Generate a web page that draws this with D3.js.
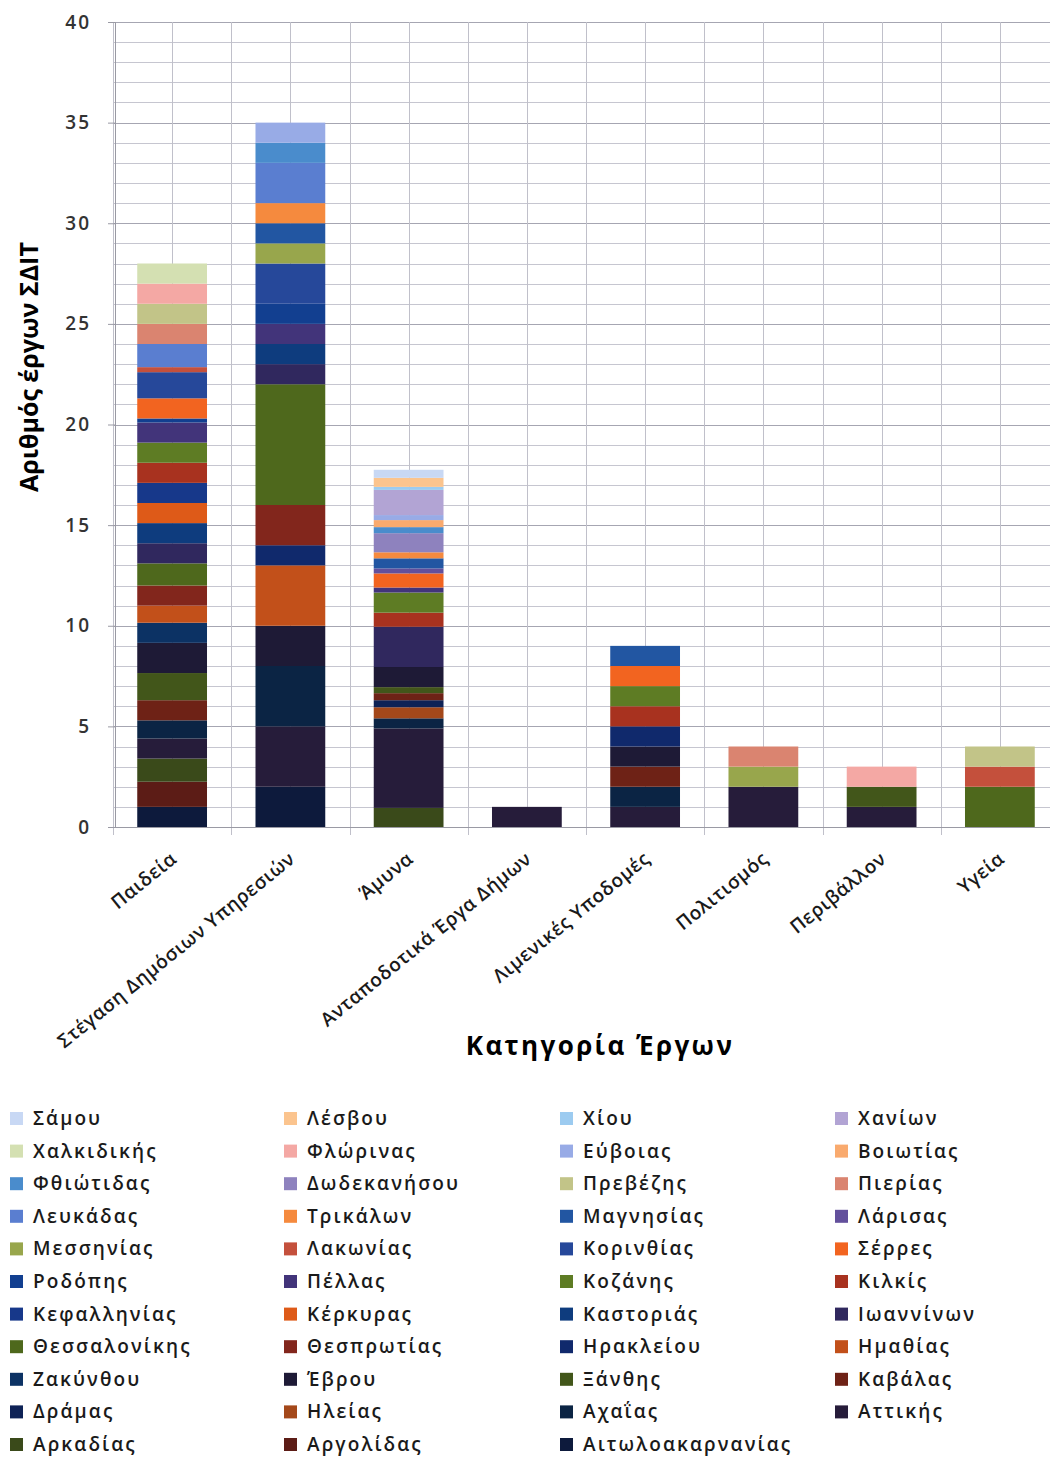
<!DOCTYPE html>
<html>
<head>
<meta charset="utf-8">
<script src="https://cdn.jsdelivr.net/npm/d3@7"></script>
<style>
  html, body { margin: 0; padding: 0; background: #ffffff; }
  svg { display: block; }
  text { font-family: "Open Sans", "DejaVu Sans", sans-serif; }
</style>
</head>
<body>
<svg id="chart" width="1050" height="1458"></svg>
<script>
// Project categories (x axis)
const categories = [
  "Παιδεία",
  "Στέγαση Δημόσιων Υπηρεσιών",
  "Άμυνα",
  "Ανταποδοτικά Έργα Δήμων",
  "Λιμενικές Υποδομές",
  "Πολιτισμός",
  "Περιβάλλον",
  "Υγεία"
];

// Prefectures in stacking order (bottom of the column first)
const prefectures = [
  "Αιτωλοακαρνανίας", "Αργολίδας", "Αρκαδίας", "Αττικής", "Αχαΐας", "Ηλείας",
  "Δράμας", "Καβάλας", "Ξάνθης", "Έβρου", "Ζακύνθου", "Ημαθίας",
  "Ηρακλείου", "Θεσπρωτίας", "Θεσσαλονίκης", "Ιωαννίνων", "Καστοριάς", "Κέρκυρας",
  "Κεφαλληνίας", "Κιλκίς", "Κοζάνης", "Πέλλας", "Ροδόπης", "Σέρρες",
  "Κορινθίας", "Λακωνίας", "Μεσσηνίας", "Λάρισας", "Μαγνησίας", "Τρικάλων",
  "Λευκάδας", "Πιερίας", "Πρεβέζης", "Δωδεκανήσου", "Φθιώτιδας", "Βοιωτίας",
  "Εύβοιας", "Φλώρινας", "Χαλκιδικής", "Χανίων", "Χίου", "Λέσβου", "Σάμου"
];

const prefectureColors = [
  "#0d1a3c", "#5c1c16", "#3a4a1a", "#261c3a", "#0b2444", "#a4481a",
  "#0e2256", "#6e2216", "#42561a", "#1e1a36", "#0c3264", "#c2501a",
  "#10296c", "#82261c", "#4e681c", "#30285e", "#0e3c7e", "#de5a18",
  "#17388a", "#a8321f", "#5e7c24", "#42347a", "#123f90", "#f26420",
  "#26489a", "#c4503c", "#98a64c", "#63509c", "#2256a2", "#f58a3e",
  "#5a7ed0", "#da8470", "#c2c488", "#8e82be", "#4a8ccc", "#f9aa6e",
  "#98abe6", "#f4a8a4", "#d4e0b2", "#b2a4d4", "#9ccbf0", "#fbc48e", "#c8d8f4"
];

// Number of projects per prefecture, one list per category
const paideia = {
  "Αιτωλοακαρνανίας": 1, "Αργολίδας": 1.25, "Αρκαδίας": 1.15, "Αττικής": 1, "Αχαΐας": 0.9,
  "Καβάλας": 1, "Ξάνθης": 1.35, "Έβρου": 1.5, "Ζακύνθου": 1, "Ημαθίας": 0.85,
  "Θεσπρωτίας": 1, "Θεσσαλονίκης": 1.1, "Ιωαννίνων": 1, "Καστοριάς": 1, "Κέρκυρας": 1,
  "Κεφαλληνίας": 1, "Κιλκίς": 1, "Κοζάνης": 1, "Πέλλας": 1, "Ροδόπης": 0.2,
  "Σέρρες": 1, "Κορινθίας": 1.3, "Λακωνίας": 0.25, "Λευκάδας": 1.15, "Πιερίας": 1,
  "Πρεβέζης": 1, "Φλώρινας": 1, "Χαλκιδικής": 1
};
const stegasi = {
  "Αιτωλοακαρνανίας": 2, "Αττικής": 3, "Αχαΐας": 3, "Έβρου": 2, "Ημαθίας": 3,
  "Ηρακλείου": 1, "Θεσπρωτίας": 2, "Θεσσαλονίκης": 6, "Ιωαννίνων": 1, "Καστοριάς": 1,
  "Πέλλας": 1, "Ροδόπης": 1, "Κορινθίας": 2, "Μεσσηνίας": 1, "Μαγνησίας": 1,
  "Τρικάλων": 1, "Λευκάδας": 2, "Φθιώτιδας": 1, "Εύβοιας": 1
};
const amyna = {
  "Αρκαδίας": 0.95, "Αττικής": 3.95, "Αχαΐας": 0.5, "Ηλείας": 0.55, "Δράμας": 0.35,
  "Καβάλας": 0.35, "Ξάνθης": 0.3, "Έβρου": 1, "Ιωαννίνων": 2, "Κιλκίς": 0.7,
  "Κοζάνης": 1, "Πέλλας": 0.25, "Σέρρες": 0.7, "Λάρισας": 0.25, "Μαγνησίας": 0.5,
  "Τρικάλων": 0.3, "Δωδεκανήσου": 0.95, "Φθιώτιδας": 0.3, "Βοιωτίας": 0.35, "Εύβοιας": 0.25,
  "Χανίων": 1.25, "Χίου": 0.15, "Λέσβου": 0.45, "Σάμου": 0.4
};
const antapodotika = { "Αττικής": 1 };
const limenikes = {
  "Αττικής": 1, "Αχαΐας": 1, "Καβάλας": 1, "Έβρου": 1, "Ηρακλείου": 1,
  "Κιλκίς": 1, "Κοζάνης": 1, "Σέρρες": 1, "Μαγνησίας": 1
};
const politismos = { "Αττικής": 2, "Μεσσηνίας": 1, "Πιερίας": 1 };
const perivallon = { "Αττικής": 1, "Ξάνθης": 1, "Φλώρινας": 1 };
const ygeia = { "Θεσσαλονίκης": 2, "Λακωνίας": 1, "Πρεβέζης": 1 };

const categoryValues = [paideia, stegasi, amyna, antapodotika, limenikes, politismos, perivallon, ygeia];

const yTicks = [0, 5, 10, 15, 20, 25, 30, 35, 40];
const yTitle = "Αριθμός έργων ΣΔΙΤ";
const xTitle = "Κατηγορία Έργων";

// ---- layout ----
const plot = { left: 113, right: 1059, top: 22, bottom: 827 };
const svg = d3.select("#chart");

const table = categories.map((c, i) => {
  const row = { category: c };
  prefectures.forEach(p => { row[p] = categoryValues[i][p] || 0; });
  return row;
});

const x = d3.scaleBand()
  .domain(categories)
  .range([plot.left, plot.right])
  .paddingInner(0.41)
  .paddingOuter(0.205);

const y = d3.scaleLinear().domain([0, 40]).range([plot.bottom, plot.top]);
const color = d3.scaleOrdinal().domain(prefectures).range(prefectureColors);

// gridlines: one per unit, darker every five
const grid = svg.append("g");
d3.range(1, 41).forEach(v => {
  grid.append("line")
    .attr("x1", plot.left).attr("x2", 1050)
    .attr("y1", Math.round(y(v)) + 0.5).attr("y2", Math.round(y(v)) + 0.5)
    .attr("stroke", v % 5 === 0 ? "#a6a6b2" : "#c6c6d0")
    .attr("stroke-width", 1);
});
// vertical gridlines at category edges and centres
const step = x.step();
const vLines = [];
categories.forEach(c => {
  const mid = x(c) + x.bandwidth() / 2;
  vLines.push(mid - step / 2, mid);
});
vLines.push(x(categories[categories.length - 1]) + x.bandwidth() / 2 + step / 2);
vLines.forEach((vx, i) => {
  grid.append("line")
    .attr("x1", Math.round(vx) + 0.5).attr("x2", Math.round(vx) + 0.5)
    .attr("y1", plot.top).attr("y2", plot.bottom + (i % 2 === 0 ? 8 : 0))
    .attr("stroke", "#c0c0ca").attr("stroke-width", 1);
});

// stacked columns
const series = d3.stack().keys(prefectures)(table);
svg.append("g")
  .selectAll("g")
  .data(series)
  .join("g")
  .attr("fill", d => color(d.key))
  .selectAll("rect")
  .data(d => d.filter(s => s[1] - s[0] > 0))
  .join("rect")
  .attr("x", d => x(d.data.category))
  .attr("width", x.bandwidth())
  .attr("y", d => y(d[1]))
  .attr("height", d => y(d[0]) - y(d[1]));

// y axis
const yAxis = d3.axisLeft(y).tickValues(yTicks).tickSize(7).tickPadding(17);
const yg = svg.append("g").attr("transform", `translate(${plot.left + 2},0)`).call(yAxis);
yg.select(".domain").attr("stroke", "#9a9aa4");
yg.selectAll(".tick line").attr("stroke", "#9a9aa4");
yg.selectAll(".tick text")
  .attr("fill", "#333")
  .style("font-size", "19px")
  .style("font-weight", "600")
  .style("letter-spacing", "2px");

// x axis baseline
svg.append("line")
  .attr("x1", plot.left).attr("x2", 1050)
  .attr("y1", plot.bottom + 0.5).attr("y2", plot.bottom + 0.5)
  .attr("stroke", "#9a9aa4");

// category labels, rotated
svg.append("g")
  .selectAll("text")
  .data(categories)
  .join("text")
  .attr("transform", c => `translate(${x(c) + x.bandwidth() / 2 + 6},${plot.bottom + 34}) rotate(-39)`)
  .attr("text-anchor", "end")
  .attr("fill", "#1a1a1a")
  .style("font-size", "19px")
  .style("font-weight", "600")
  .style("letter-spacing", "0.6px")
  .text(d => d);

// axis titles
svg.append("text")
  .attr("transform", `translate(38,${367}) rotate(-90)`)
  .attr("text-anchor", "middle")
  .attr("fill", "#000")
  .style("font-size", "25px")
  .style("font-weight", "700")
  .text(yTitle);

svg.append("text")
  .attr("x", 600).attr("y", 1055)
  .attr("text-anchor", "middle")
  .attr("fill", "#000")
  .style("font-size", "26px")
  .style("font-weight", "700")
  .style("letter-spacing", "2.4px")
  .text(xTitle);

// legend: four columns, topmost series first
const legendItems = prefectures.slice().reverse();
const colX = [10, 284, 560, 835];
const legend = svg.append("g")
  .selectAll("g")
  .data(legendItems)
  .join("g")
  .attr("transform", (d, i) => `translate(${colX[i % 4]},${1118 + Math.floor(i / 4) * 32.6})`);
legend.append("rect")
  .attr("x", 0).attr("y", -6).attr("width", 13).attr("height", 13)
  .attr("fill", d => color(d));
legend.append("text")
  .attr("x", 23).attr("y", 7)
  .attr("fill", "#1a1a1a")
  .style("font-size", "19px")
  .style("font-weight", "600")
  .style("letter-spacing", "2.1px")
  .text(d => d);
</script>
</body>
</html>
